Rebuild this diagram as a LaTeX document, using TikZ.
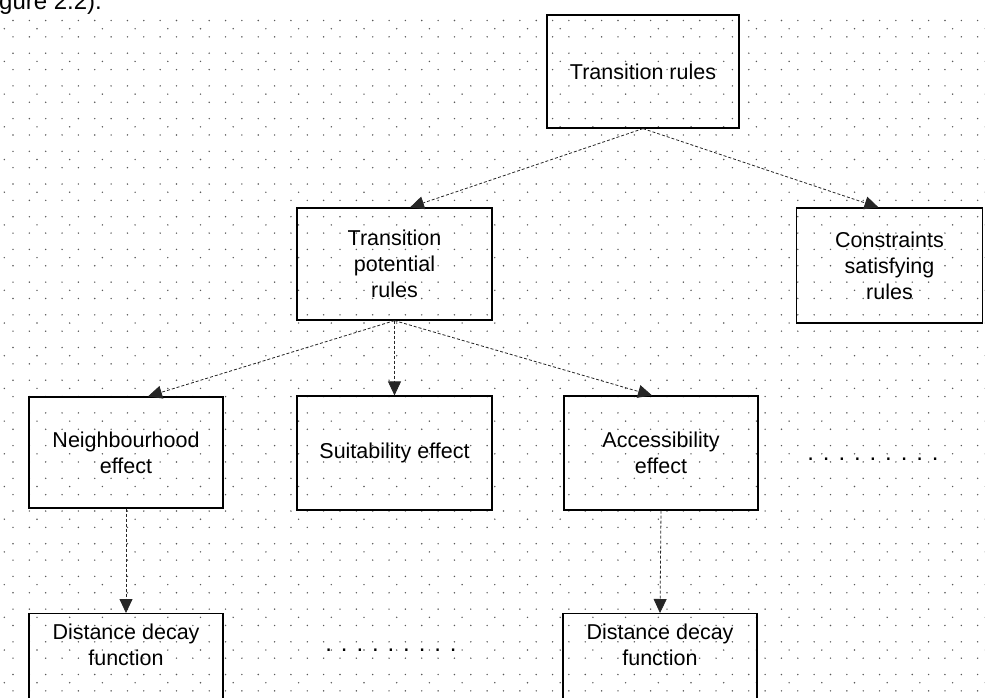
\documentclass[tikz,border=0pt]{standalone}
\usepackage{fontspec}
\setmainfont{Liberation Sans}
\usetikzlibrary{arrows.meta,calc}

\tikzset{
  gridot/.style={fill=black!65, draw=none},
  rulebox/.style={draw=black, line width=1.2pt, fill=none, align=center,
    inner sep=0pt, font=\fontsize{21.5}{26}\selectfont},
  boxtext/.style={align=center, inner sep=0pt, font=\fontsize{21.5}{26}\selectfont},
  moredots/.style={inner sep=0pt, font=\fontsize{24}{26}\selectfont},
  link/.style={draw=black!85, line width=0.8pt, densely dashed,
    -{Triangle[length=14pt,width=13pt]}},
}

\begin{document}
\begin{tikzpicture}[x=1pt,y=-1pt]
  \clip (0,0) rectangle (985,697);
  \fill[white] (0,0) rectangle (985,697);

  % dotted backdrop: a fine square grid plus a sparse offset grid
  \foreach \i in {0,...,60}{
    \foreach \j in {0,...,42}{
      \fill[gridot] (13+16.35*\i, 20.5+16.35*\j) circle (0.8pt);
    }
  }
  \foreach \i in {-1,...,29}{
    \foreach \j in {0,...,21}{
      \fill[gridot] (37+32.7*\i, 28.7+32.7*\j) circle (0.8pt);
    }
  }

  % end of the running text above the chart
  \node[anchor=base west, inner sep=0pt, font=\fontsize{24}{26}\selectfont]
    (caption) at (-1,9) {gure 2.2).};

  % rule hierarchy
  \node[rulebox, minimum width=192pt, minimum height=113pt] (tr) at (643,71.5)
    {Transition rules};
  \node[rulebox, minimum width=195pt, minimum height=112pt] (tpr) at (394.5,264)
    {Transition\\potential\\rules};
  \node[rulebox, minimum width=186pt, minimum height=115pt] (csr) at (889.5,265.5)
    {Constraints\\satisfying\\rules};

  \node[rulebox, minimum width=194pt, minimum height=111pt] (ne) at (126,452.5)
    {Neighbourhood\\effect};
  \node[rulebox, minimum width=195pt, minimum height=114pt] (se) at (394.5,453)
    {Suitability effect};
  \node[rulebox, minimum width=194pt, minimum height=114pt] (ae) at (661,453)
    {Accessibility\\effect};
  \node[moredots] (more1) at (873,459) {. . . . . . . . .};

  \node[rulebox, anchor=north, minimum width=194pt, minimum height=110pt] (dd1) at (126,613) {};
  \node[boxtext] (dd1t) at (126,645) {Distance decay\\function};
  \node[moredots] (more2) at (391,650) {. . . . . . . . .};
  \node[rulebox, anchor=north, minimum width=194pt, minimum height=110pt] (dd2) at (660,613) {};
  \node[boxtext] (dd2t) at (660,645) {Distance decay\\function};

  % arrival points on the box tops
  \coordinate (tpr-in) at ($(tpr.north)+(15.5,0)$);
  \coordinate (csr-in) at ($(csr.north)+(-11,0)$);
  \coordinate (ne-in) at ($(ne.north)+(22,0)$);
  \coordinate (ae-in) at ($(ae.north)+(-9,0)$);

  % connectors
  \draw[link] (tr.south) -- (tpr-in);
  \draw[link] (tr.south) -- (csr-in);
  \draw[link] (tpr.south) -- (ne-in);
  \draw[link] (tpr.south) -- (se.north);
  \draw[link] (tpr.south) -- (ae-in);
  \draw[link] (ne.south) -- (dd1.north);
  \draw[link] (ae.south) -- (dd2.north);
\end{tikzpicture}
\end{document}
